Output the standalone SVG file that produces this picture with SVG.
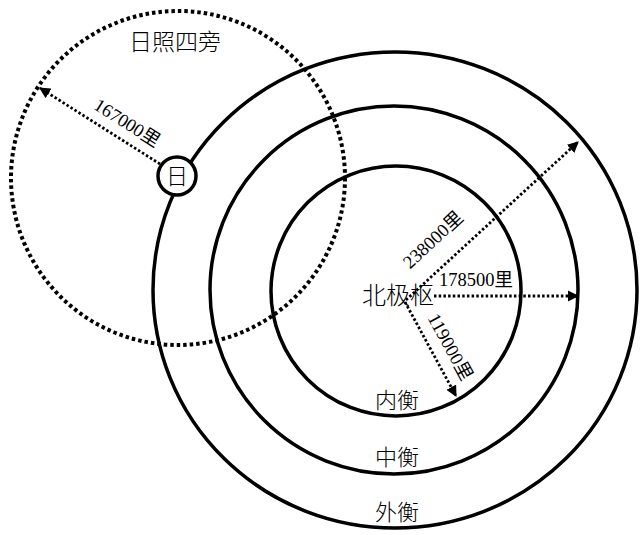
<svg xmlns="http://www.w3.org/2000/svg" width="642" height="535" viewBox="0 0 642 535">
<defs>
<style>
.ring{fill:none;stroke:#000;stroke-width:3.5}
.dotc{fill:none;stroke:#000;stroke-width:4;stroke-dasharray:3.5 3}
.dl{fill:none;stroke:#000;stroke-width:2.8;stroke-dasharray:2.5 2.2}
.cn{font-family:"Liberation Serif","Noto Sans CJK SC",serif;font-weight:300;fill:#000}
.num{font-family:"Liberation Serif","Noto Sans CJK SC",serif;font-size:18.5px;fill:#000}
</style>
<marker id="ah" viewBox="0 0 10 10" refX="9" refY="5" markerWidth="4" markerHeight="4" orient="auto" markerUnits="strokeWidth">
<path d="M0,0 L10,5 L0,10 z" fill="#000"/>
</marker>
</defs>
<rect width="642" height="535" fill="#fff"/>
<g id="outer"><ellipse class="ring" cx="395" cy="290" rx="242" ry="238"/></g>
<g id="middle"><circle class="ring" cx="394" cy="290" r="184"/></g>
<g id="inner"><circle class="ring" cx="396" cy="291" r="125"/></g>
<g id="sunrange"><circle class="dotc" cx="178" cy="178" r="167"/></g>
<g id="connectors">
<line class="dl" x1="160" y1="164" x2="40" y2="88" marker-end="url(#ah)"/>
<line class="dl" x1="406" y1="300" x2="578" y2="142" marker-end="url(#ah)"/>
<line class="dl" x1="434" y1="296" x2="578" y2="296" marker-end="url(#ah)"/>
<line class="dl" x1="405" y1="302" x2="456" y2="396" marker-end="url(#ah)"/>
</g>
<g id="sun">
<circle cx="177" cy="176" r="19" fill="#fff" stroke="#000" stroke-width="3.5"/>
<text class="cn" x="177" y="184" font-size="22" text-anchor="middle">日</text>
</g>
<g id="labels">
<text class="cn" x="175" y="50" font-size="23" text-anchor="middle">日照四旁</text>
<text class="cn" x="398" y="304" font-size="24" text-anchor="middle">北极枢</text>
<text class="cn" x="397" y="408" font-size="22" text-anchor="middle">内衡</text>
<text class="cn" x="397" y="465" font-size="22" text-anchor="middle">中衡</text>
<text class="cn" x="397" y="520" font-size="22" text-anchor="middle">外衡</text>
<text class="num" x="476" y="286" text-anchor="middle">178500里</text>
<text class="num" transform="translate(127,123) rotate(32.3)" text-anchor="middle" dy="6">167000里</text>
<text class="num" transform="translate(433,240) rotate(-42.8)" text-anchor="middle" dy="6">238000里</text>
<text class="num" transform="translate(450,347) rotate(61.5)" text-anchor="middle" dy="6">119000里</text>
</g>
</svg>
